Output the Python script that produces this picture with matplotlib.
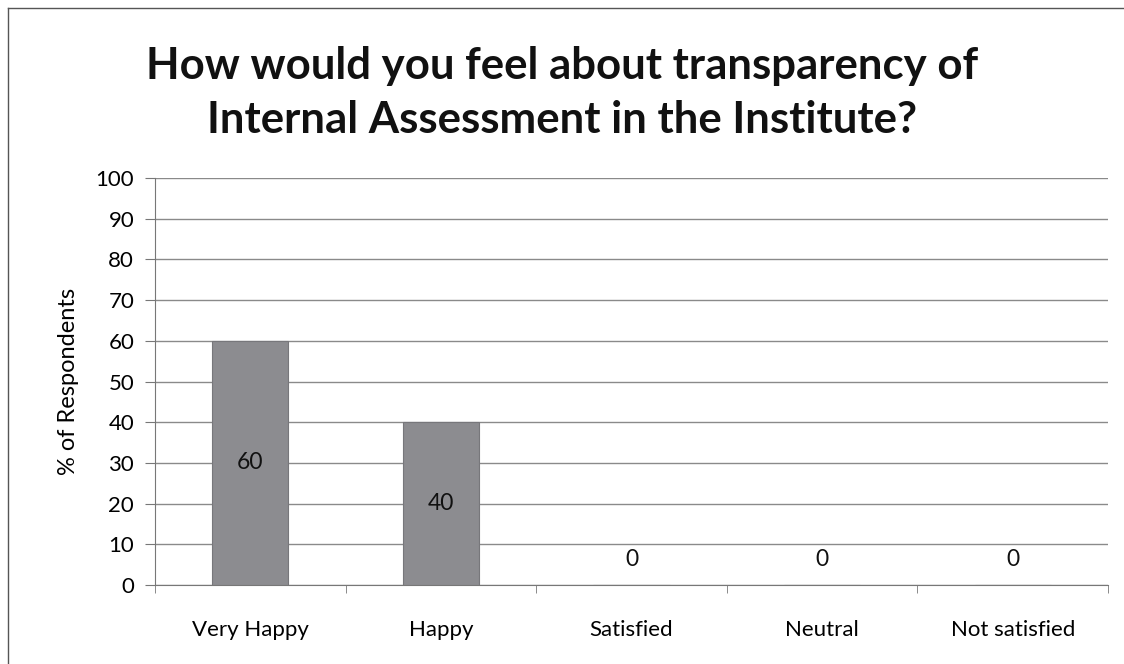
import matplotlib
matplotlib.use("Agg")
import matplotlib.pyplot as plt
from matplotlib.lines import Line2D

categories = ["Very Happy", "Happy", "Satisfied", "Neutral", "Not satisfied"]
values = [60, 40, 0, 0, 0]
yticks = list(range(0, 101, 10))

title = "How would you feel about transparency of\nInternal Assessment in the Institute?"
ylabel = "% of Respondents"

plt.rcParams["font.family"] = ["Lato", "DejaVu Sans"]

fig = plt.figure(figsize=(11.24, 6.64), dpi=100)
fig.patch.set_facecolor("white")

# plot area in pixel coords: x 155..1108, y 178..585 (from top)
W, H = 1124, 664
ax = fig.add_axes([155 / W, 1 - 585 / H, (1108 - 155) / W, (585 - 178) / H])

x = list(range(len(categories)))
ax.bar(x, values, width=0.4, color="#8c8c90", edgecolor="#77777b", linewidth=0.8, zorder=3)

for xi, v in zip(x, values):
    if v > 0:
        ax.text(xi, v / 2, str(v), ha="center", va="center", fontsize=16.5, color="#111111", zorder=4)
    else:
        ax.annotate(str(v), (xi, 0), xytext=(0, 18), textcoords="offset points",
                    ha="center", va="center", fontsize=16.5, color="#111111")

ax.set_xlim(-0.5, len(categories) - 0.5)
ax.set_ylim(0, 100)
ax.set_yticks(yticks)
ax.set_yticklabels([str(t) for t in yticks], fontsize=16)
ax.set_xticks(x)
ax.set_xticklabels(categories, fontsize=16)
ax.set_xticks([i - 0.5 for i in range(len(categories) + 1)], minor=True)
ax.tick_params(axis="x", which="major", length=0, pad=25)
ax.tick_params(axis="x", which="minor", length=6, color="#777777")
ax.tick_params(axis="y", length=7, color="#777777", pad=8)

ax.grid(axis="y", color="#8a8a8a", linewidth=1.0, zorder=0)
ax.set_axisbelow(True)
for side in ["top", "right"]:
    ax.spines[side].set_visible(False)
ax.spines["left"].set_color("#777777")
ax.spines["bottom"].set_color("#777777")

ax.set_ylabel(ylabel, fontsize=17, labelpad=12)

fig.text(0.5, 1 - 93 / H, title, ha="center", va="center", fontsize=31.5,
         fontweight="bold", linespacing=1.4, color="#111111")

# outer chart border (only top and left edges are inside the scan)
fig.add_artist(Line2D([8 / W, 1], [1 - 8 / H, 1 - 8 / H], transform=fig.transFigure,
                      color="#555555", linewidth=1.0))
fig.add_artist(Line2D([8 / W, 8 / W], [0, 1 - 8 / H], transform=fig.transFigure,
                      color="#555555", linewidth=1.0))

fig.savefig("out.png", dpi=100)
